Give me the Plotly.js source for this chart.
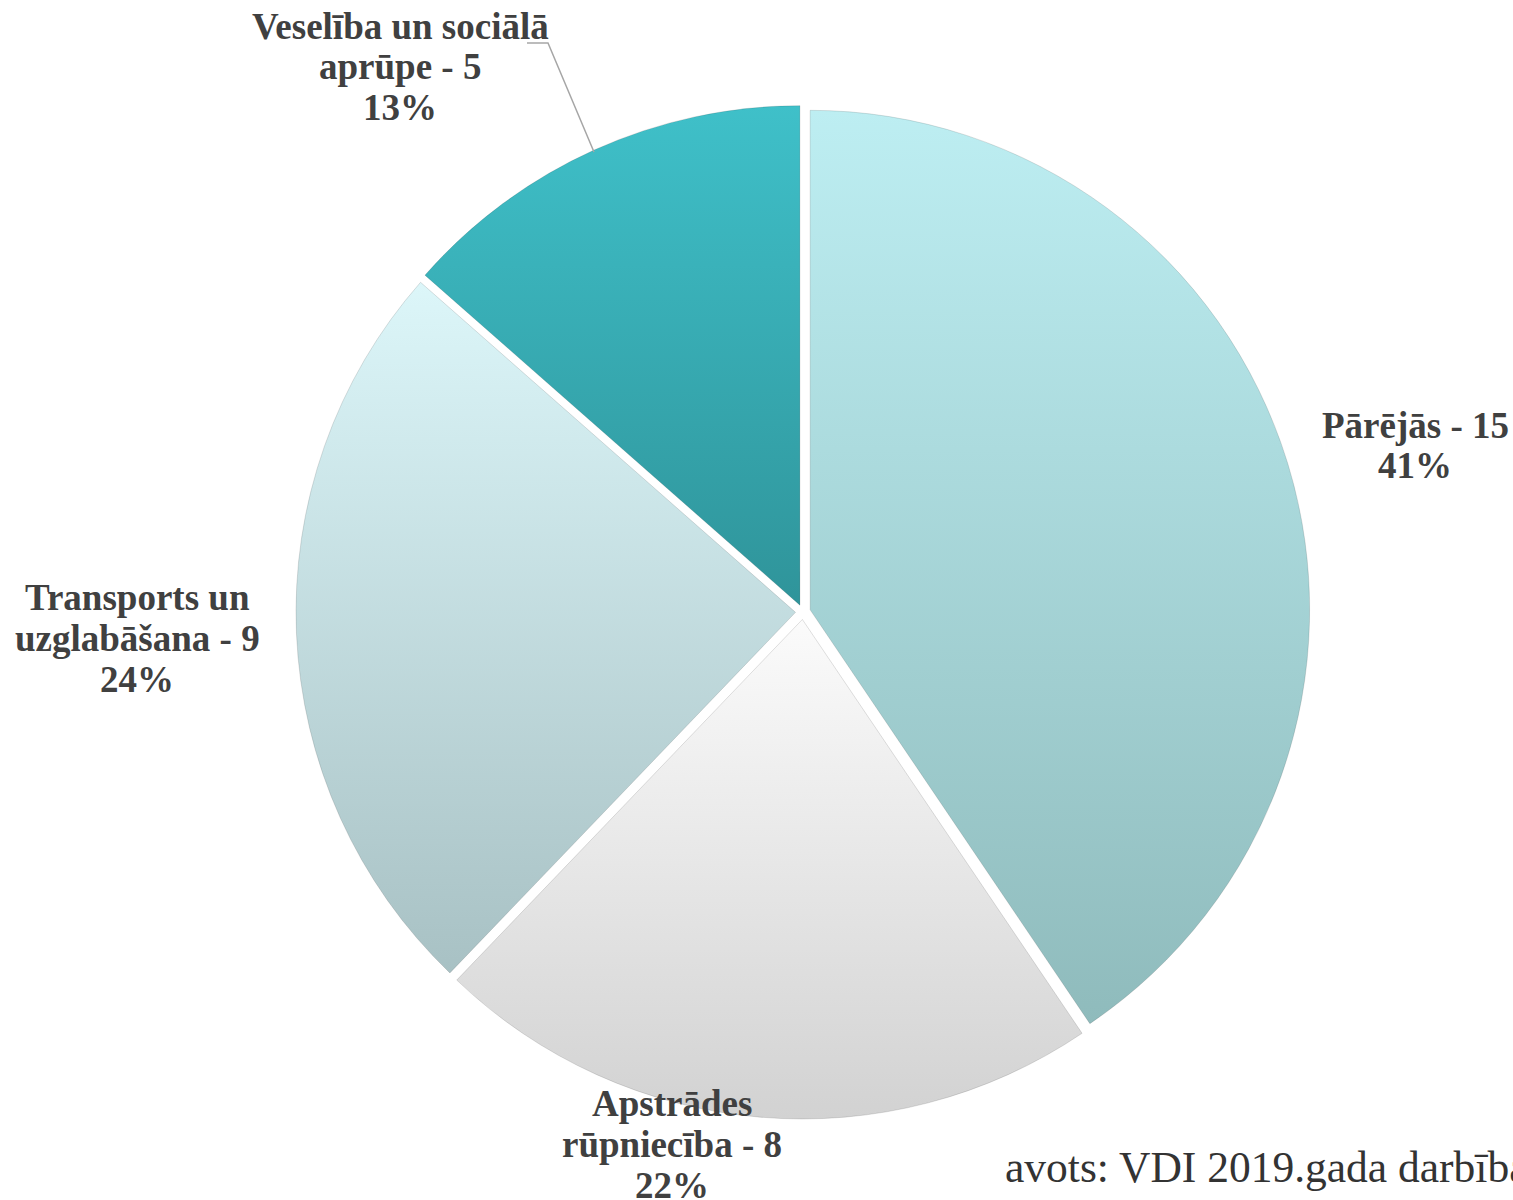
<!DOCTYPE html>
<html>
<head>
<meta charset="utf-8">
<script src="https://cdn.plot.ly/plotly-3.0.1.min.js"></script>
<style>html,body{margin:0;padding:0;background:#fff;}#chart{width:1513px;height:1200px;}</style>
</head>
<body>
<div id="chart"></div>
<script>
const categories = ["Pārējās", "Apstrādes rūpniecība", "Transports un uzglabāšana", "Veselība un sociālā aprūpe"];
const labelLines = [["Pārējās - 15"], ["Apstrādes", "rūpniecība - 8"], ["Transports un", "uzglabāšana - 9"], ["Veselība un sociālā", "aprūpe - 5"]];
const values = [15, 8, 9, 5];
const percentLabels = ["41%", "22%", "24%", "13%"];
const colors = ["#a9d7da", "#e6e6e6", "#c6dfe2", "#38aab3"];
const gradTop = ["#bdeef2", "#fbfbfb", "#dcf6f9", "#3fc0c9"];
const gradBottom = ["#8fbbbc", "#d2d2d2", "#a8c1c4", "#2f949a"];
const sourceText = "avots: VDI 2019.gada darbības pārskats";

const W = 1513, H = 1200;
const px = x => x / W, py = y => 1 - y / H;

// label block positions in pixels (layout only): center x, first line center y
const labelPos = [[1415, 425], [672, 1103], [137, 597], [400, 26]];
const lineGap = 41;
const labelFont = {family: "Liberation Serif, Times New Roman, serif", size: 37, color: "#404040"};

const annotations = [];
categories.forEach((c, i) => {
  const lines = labelLines[i].concat([percentLabels[i]]);
  lines.forEach((t, k) => {
    annotations.push({
      text: "<b>" + t + "</b>",
      x: px(labelPos[i][0]), y: py(labelPos[i][1] + k * lineGap), xref: "paper", yref: "paper",
      xanchor: "center", yanchor: "middle", showarrow: false, align: "center",
      font: labelFont
    });
  });
});
annotations.push({
  text: sourceText, x: px(1003), y: py(1167), xref: "paper", yref: "paper",
  xanchor: "left", yanchor: "middle", showarrow: false,
  font: {family: "Liberation Serif, Times New Roman, serif", size: 43.5, color: "#333333"}
});

const data = [{
  type: "pie",
  labels: categories,
  values: values,
  sort: false,
  direction: "clockwise",
  rotation: 0,
  pull: [0.015, 0.015, 0.015, 0.015],
  textinfo: "none",
  hoverinfo: "label+value+percent",
  marker: {colors: colors, line: {color: "rgba(0,0,0,0.12)", width: 1}},
  domain: {x: [px(803 - 507), px(803 + 507)], y: [py(612 + 507), py(612 - 507)]}
}];

const layout = {
  width: W, height: H,
  margin: {l: 0, r: 0, t: 0, b: 0},
  paper_bgcolor: "#ffffff",
  showlegend: false,
  annotations: annotations,
  shapes: [{
    type: "path", xref: "paper", yref: "paper",
    path: "M " + px(527) + " " + py(43) + " L " + px(548) + " " + py(43) + " L " + px(594) + " " + py(152),
    line: {color: "#a6a6a6", width: 1.5}
  }]
};

Plotly.newPlot("chart", data, layout, {displayModeBar: false, staticPlot: true}).then(gd => {
  const svg = gd.querySelector(".main-svg");
  const NS = "http://www.w3.org/2000/svg";
  let defs = svg.querySelector("defs");
  if (!defs) { defs = document.createElementNS(NS, "defs"); svg.insertBefore(defs, svg.firstChild); }
  gradTop.forEach((top, i) => {
    const g = document.createElementNS(NS, "linearGradient");
    g.setAttribute("id", "sliceGrad" + i);
    g.setAttribute("x1", "0"); g.setAttribute("y1", "0");
    g.setAttribute("x2", "0"); g.setAttribute("y2", "1");
    [[0, top], [1, gradBottom[i]]].forEach(([o, c]) => {
      const s = document.createElementNS(NS, "stop");
      s.setAttribute("offset", o); s.setAttribute("stop-color", c);
      g.appendChild(s);
    });
    defs.appendChild(g);
  });
  gd.querySelectorAll(".slice path.surface").forEach((p, i) => {
    p.style.fill = "url(#sliceGrad" + i + ")";
  });
});
</script>
</body>
</html>
